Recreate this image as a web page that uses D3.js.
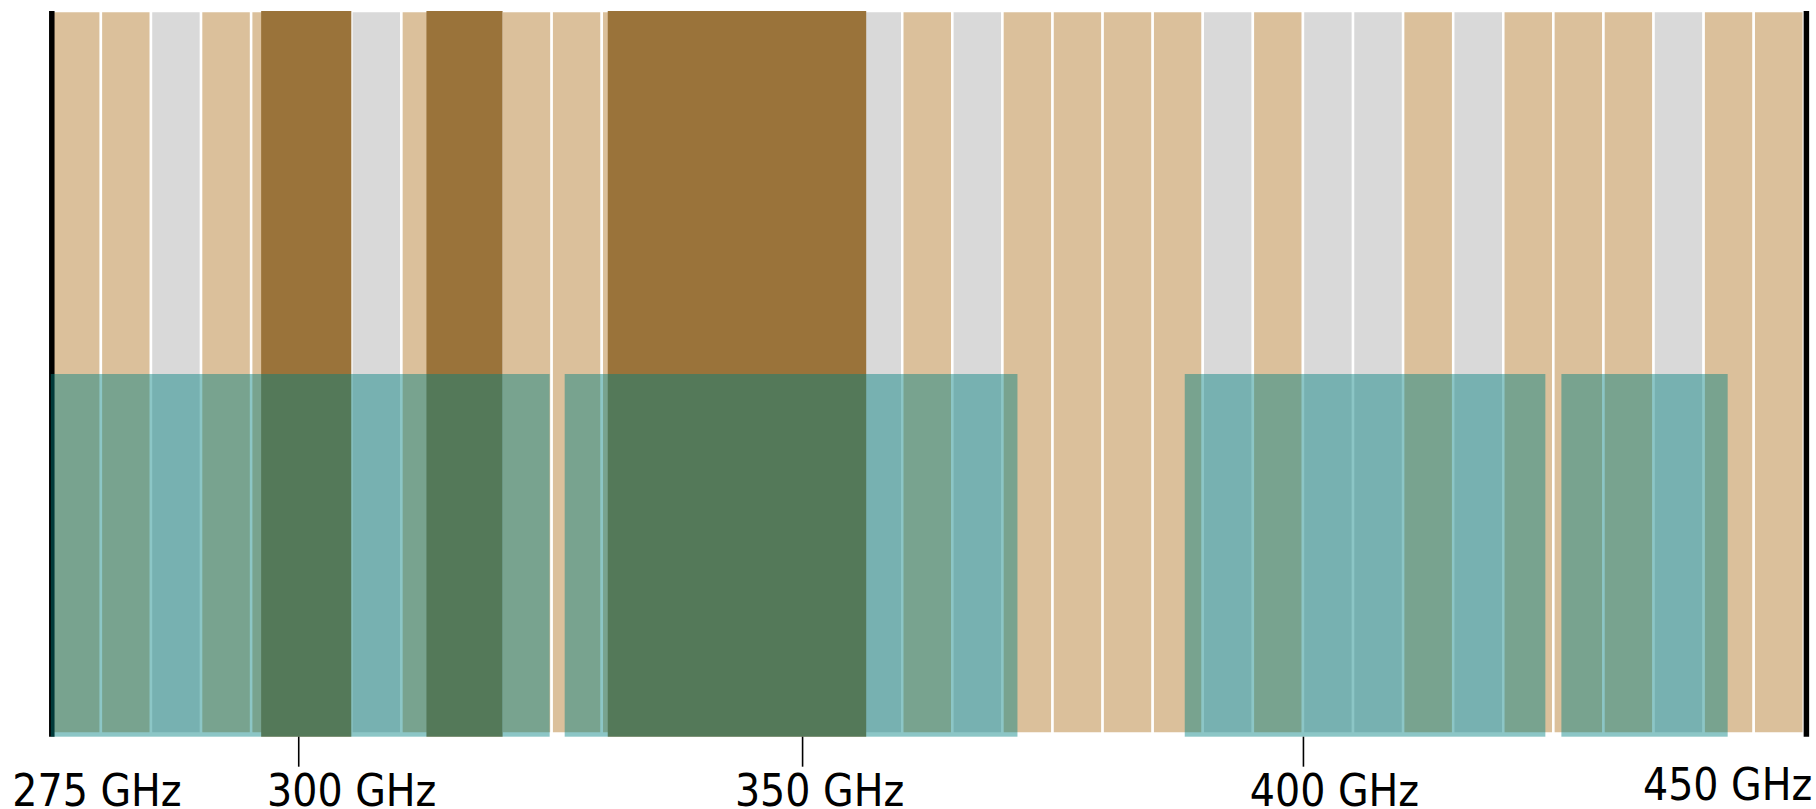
<!DOCTYPE html>
<html>
<head>
<meta charset="utf-8">
<script src="https://cdn.jsdelivr.net/npm/d3@7"></script>
<style>
  html, body { margin: 0; padding: 0; background: #ffffff; }
  svg { display: block; }
</style>
</head>
<body>
<svg id="chart" width="1816" height="809"></svg>
<script>
// ---------------- DATA ----------------
// 5 GHz channels from 275 to 450 GHz (channel start frequency, GHz)
const channelStarts = [275, 280, 285, 290, 295, 300, 305, 310, 315, 320,
                       325, 330, 335, 340, 345, 350, 355, 360, 365, 370,
                       375, 380, 385, 390, 395, 400, 405, 410, 415, 420,
                       425, 430, 435, 440, 445];
const channelWidth = 5;
// channel class: "A" = tan, "B" = grey
const channelClass = ["A","A","B","A","A","A","B","A","A","A",
                      "A","A","A","A","A","A","B","A","B","A",
                      "A","A","A","B","A","B","B","A","B","A",
                      "A","A","B","A","A"];
// dark (protected) bands [start, end] GHz
const protectedStart = [296.0, 312.5, 330.6];
const protectedEnd   = [305.0, 320.1, 356.4];
// teal (window) bands [start, end] GHz
const windowStart = [275.0, 326.3, 388.2, 425.8];
const windowEnd   = [324.8, 371.5, 424.2, 442.4];
// axis
const tickValues = [275, 300, 350, 400, 450];
const tickLabels = ["275 GHz", "300 GHz", "350 GHz", "400 GHz", "450 GHz"];

// ---------------- LAYOUT ----------------
const svg = d3.select("#chart");
const x = d3.scaleLinear().domain([275, 450]).range([50.8, 1803.8]);
const yTop = 11, yMid = 374, yChanBottom = 733.5, yBottom = 736.7;

const colorA = "#dbc09b", colorB = "#d9d9d9", colorProt = "#9a733a";
const colorWin = "#008080", winOpacity = 0.45;

// channels
svg.append("g").selectAll("rect")
  .data(channelStarts.map((s, i) => ({ s, e: s + channelWidth, c: channelClass[i] })))
  .join("rect")
  .attr("x", d => x(d.s))
  .attr("width", d => x(d.e) - x(d.s))
  .attr("y", yTop)
  .attr("height", yChanBottom - yTop)
  .attr("fill", d => d.c === "A" ? colorA : colorB)
  .attr("stroke", "#ffffff")
  .attr("stroke-width", 2.5);

// protected bands
svg.append("g").selectAll("rect")
  .data(protectedStart.map((s, i) => ({ s, e: protectedEnd[i] })))
  .join("rect")
  .attr("x", d => x(d.s))
  .attr("width", d => x(d.e) - x(d.s))
  .attr("y", yTop)
  .attr("height", yBottom - yTop)
  .attr("fill", colorProt);

// edge lines at domain ends
svg.append("g").selectAll("line")
  .data([275, 450])
  .join("line")
  .attr("x1", (d, i) => x(d) + (i === 0 ? 1 : 2.6))
  .attr("x2", (d, i) => x(d) + (i === 0 ? 1 : 2.6))
  .attr("y1", yTop)
  .attr("y2", yBottom)
  .attr("stroke", "#000")
  .attr("stroke-width", 5.5);

// windows
svg.append("g").selectAll("rect")
  .data(windowStart.map((s, i) => ({ s, e: windowEnd[i] })))
  .join("rect")
  .attr("x", d => x(d.s))
  .attr("width", d => x(d.e) - x(d.s))
  .attr("y", yMid)
  .attr("height", yBottom - yMid)
  .attr("fill", colorWin)
  .attr("fill-opacity", winOpacity);

// axis
const axis = d3.axisBottom(x)
  .tickValues(tickValues)
  .tickSize(30)
  .tickPadding(8)
  .tickFormat((d, i) => tickLabels[i]);

const gAxis = svg.append("g")
  .attr("transform", `translate(0,${yBottom})`)
  .call(axis);
gAxis.select(".domain").remove();
const tickShift = { 275: 0, 300: -3, 350: 0, 400: 0, 450: 0 };
gAxis.selectAll(".tick line")
  .attr("stroke", "#000")
  .attr("stroke-width", 1.6)
  .attr("transform", d => `translate(${tickShift[d]},0)`)
  .attr("opacity", d => (d === 275 || d === 450) ? 0 : 1);

// label placement (hand-placed in reference)
const labelAnchor = { 275: "start", 300: "middle", 350: "middle", 400: "middle", 450: "end" };
const labelDx = { 275: -39, 300: 50, 350: 17, 400: 31, 450: 8 };
const labelY = { 275: 69, 300: 69, 350: 69, 400: 69, 450: 63 };
gAxis.selectAll(".tick text")
  .attr("font-family", "'DejaVu Sans Condensed', 'DejaVu Sans', sans-serif")
  .attr("font-size", 44)
  .attr("fill", "#000")
  .attr("text-anchor", d => labelAnchor[d])
  .attr("dy", null)
  .attr("x", d => labelDx[d])
  .attr("y", d => labelY[d]);
</script>
</body>
</html>
